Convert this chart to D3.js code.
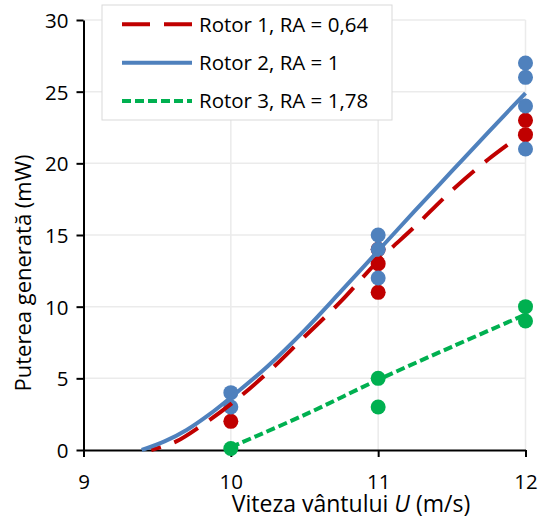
<!DOCTYPE html>
<meta charset="utf-8">
<script src="https://cdn.jsdelivr.net/npm/d3@7"></script>
<style>
  body { margin: 0; background: #fff; }
  svg text { font-family: "Open Sans", sans-serif; fill: #000; }
</style>
<svg id="chart" width="543" height="520"></svg>
<script>
// measured points
var rotor1U = [10, 11, 11, 11, 12, 12];
var rotor1P = [2, 14, 13, 11, 23, 22];
var rotor2U = [10, 10, 11, 11, 11, 12, 12, 12, 12];
var rotor2P = [4, 3, 15, 14, 12, 27, 26, 24, 21];
var rotor3U = [10, 11, 11, 12, 12];
var rotor3P = [0.1, 5, 3, 10, 9];

// trend lines
var trend1U = [9.46, 9.63, 9.8, 10, 10.25, 10.5, 10.75, 11, 11.25, 11.5, 11.75, 12];
var trend1P = [0, 0.6, 1.7, 3.2, 5.4, 7.9, 10.4, 13.2, 15.6, 18.1, 20.3, 22.2];
var trend2U = [9.395, 9.55, 9.7, 9.85, 10, 10.25, 10.5, 10.75, 11, 11.25, 11.5, 11.75, 12];
var trend2P = [0, 0.6, 1.4, 2.45, 3.67, 5.85, 8.35, 11.1, 13.9, 16.7, 19.45, 22.2, 24.9];
var trend3U = [10, 10.5, 11, 11.5, 12];
var trend3P = [0.2, 2.45, 4.9, 7.2, 9.45];

var legendNames = ["Rotor 1, RA = 0,64", "Rotor 2, RA = 1", "Rotor 3, RA = 1,78"];
var xTicks = [9, 10, 11, 12];
var yTicks = [0, 5, 10, 15, 20, 25, 30];

var colors = ["#C00000", "#4F81BD", "#00B050"];
var dashes = ["28 14", null, "9 4"];

var svg = d3.select("#chart");
var x = d3.scaleLinear().domain([9, 12]).range([83.5, 525.5]);
var y = d3.scaleLinear().domain([0, 30]).range([450, 20]);

// grid
svg.append("g").selectAll("line")
  .data(yTicks.slice(1)).enter().append("line")
  .attr("x1", x(9)).attr("x2", x(12))
  .attr("y1", d => y(d)).attr("y2", d => y(d))
  .style("stroke", "#ebebeb").style("stroke-width", 1.5);
svg.append("g").selectAll("line")
  .data(xTicks.slice(1)).enter().append("line")
  .attr("x1", d => x(d)).attr("x2", d => x(d))
  .attr("y1", y(0)).attr("y2", y(30))
  .style("stroke", "#ebebeb").style("stroke-width", 1.5);

// axes
var yAxis = svg.append("g").attr("transform", "translate(" + x(9) + ",0)")
  .call(d3.axisLeft(y).tickValues(yTicks).tickFormat(d3.format("d"))
    .tickSize(7).tickSizeOuter(0).tickPadding(8));
var xAxis = svg.append("g").attr("transform", "translate(0," + y(0) + ")")
  .call(d3.axisBottom(x).tickValues(xTicks).tickFormat(d3.format("d"))
    .tickSize(7).tickSizeOuter(0));
[yAxis, xAxis].forEach(function(a) {
  a.select(".domain").style("stroke", "#000").style("stroke-width", 2);
  a.selectAll(".tick line").style("stroke", "#000").style("stroke-width", 2);
  a.selectAll("text").style("font-size", "20.5px").style("font-family", "Open Sans");
});
yAxis.selectAll("text").attr("dy", "0.36em");
xAxis.selectAll("text").attr("y", 39).attr("dy", 0);

// markers
var series = [[rotor1U, rotor1P], [rotor2U, rotor2P], [rotor3U, rotor3P]];
series.forEach(function(s, i) {
  svg.append("g").selectAll("circle")
    .data(d3.range(s[0].length)).enter().append("circle")
    .attr("cx", k => x(s[0][k]))
    .attr("cy", k => y(s[1][k]))
    .attr("r", 7.5)
    .style("fill", colors[i]);
});

// trend lines
var line = d3.line().x(d => x(d[0])).y(d => y(d[1])).curve(d3.curveCatmullRom.alpha(0.5));
var trends = [[trend1U, trend1P], [trend2U, trend2P], [trend3U, trend3P]];
trends.forEach(function(t, i) {
  var pts = t[0].map((u, k) => [u, t[1][k]]);
  svg.append("path").datum(pts)
    .attr("d", line)
    .style("fill", "none")
    .style("stroke", colors[i])
    .style("stroke-width", 4)
    .style("stroke-dasharray", dashes[i])
    .style("stroke-dashoffset", i == 0 ? 18 : 0);
});

// legend
var lg = svg.append("g");
lg.append("rect").attr("x", 102).attr("y", 5).attr("width", 290).attr("height", 115)
  .style("fill", "#fff").style("stroke", "#d9d9d9").style("stroke-width", 1);
var rowY = [24.3, 62.7, 101];
legendNames.forEach(function(n, i) {
  lg.append("line").attr("x1", 122).attr("x2", 192).attr("y1", rowY[i]).attr("y2", rowY[i])
    .style("stroke", colors[i]).style("stroke-width", 4)
    .style("stroke-dasharray", dashes[i]);
  lg.append("text").attr("x", 199).attr("y", rowY[i]).attr("dy", "0.36em")
    .style("font-size", "20.5px").text(n);
});

// titles
var xt = svg.append("text").attr("x", 351).attr("y", 512)
  .attr("text-anchor", "middle").style("font-size", "23px");
xt.append("tspan").text("Viteza vântului ");
xt.append("tspan").style("font-style", "italic").text("U");
xt.append("tspan").text(" (m/s)");

svg.append("text")
  .attr("transform", "translate(31,273) rotate(-90)")
  .attr("text-anchor", "middle").style("font-size", "22px")
  .text("Puterea generată (mW)");
</script>
